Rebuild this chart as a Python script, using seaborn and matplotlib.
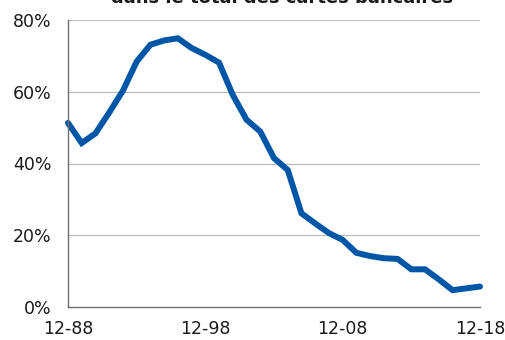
import matplotlib
matplotlib.use("Agg")
import matplotlib.pyplot as plt
import seaborn as sns
import pandas as pd

# Share of cards (in %), end of year, 1988-2018
years = list(range(1988, 2019))
share = [51.3, 45.7, 48.4, 54.2, 60.3, 68.4, 73.1, 74.3, 74.9, 72.2,
         70.3, 68.1, 59.1, 52.2, 48.9, 41.5, 38.2, 26.1, 23.3, 20.6,
         18.7, 15.1, 14.2, 13.6, 13.4, 10.5, 10.5, 7.7, 4.7, 5.2, 5.7]
tick_years = [1988, 1998, 2008, 2018]
tick_labels = ["12-88", "12-98", "12-08", "12-18"]
y_ticks = [0, 20, 40, 60, 80]
y_labels = ["0%", "20%", "40%", "60%", "80%"]
title = "dans le total des cartes bancaires"

df = pd.DataFrame({"annee": years, "part": share})

sns.set_theme(style="white")
plt.rcParams["font.family"] = ["DejaVu Sans"]

fig = plt.figure(figsize=(5.05, 3.40), dpi=100)
ax = fig.add_axes([68 / 505, 1 - 307 / 340, (480 - 68) / 505, (307 - 20) / 340])

sns.lineplot(data=df, x="annee", y="part", ax=ax, color="#0056A6",
             linewidth=4.3, solid_joinstyle="miter", clip_on=False)

ax.set_xlim(1988, 2018)
ax.set_ylim(0, 80)
ax.set_xticks(tick_years)
ax.set_xticklabels(tick_labels)
ax.set_yticks(y_ticks)
ax.set_yticklabels(y_labels)
ax.set_xlabel("")
ax.set_ylabel("")

for v in y_ticks[1:]:
    ax.axhline(v, color="#bdbdbd", linewidth=0.9, zorder=0)

for side in ["top", "right"]:
    ax.spines[side].set_visible(False)
for side in ["left", "bottom"]:
    ax.spines[side].set_color("#707070")
    ax.spines[side].set_linewidth(1.0)

ax.tick_params(axis="both", which="major", direction="out", length=5,
               width=1.0, color="#707070", labelsize=12.5, labelcolor="#1a1a1a")
ax.tick_params(axis="x", pad=4)
ax.tick_params(axis="y", pad=7)

fig.text(282 / 505, 1 - 3 / 340, title, ha="center", va="baseline",
         fontsize=13, fontweight="bold", color="#1a1a1a")

fig.savefig("out.png", dpi=100)
